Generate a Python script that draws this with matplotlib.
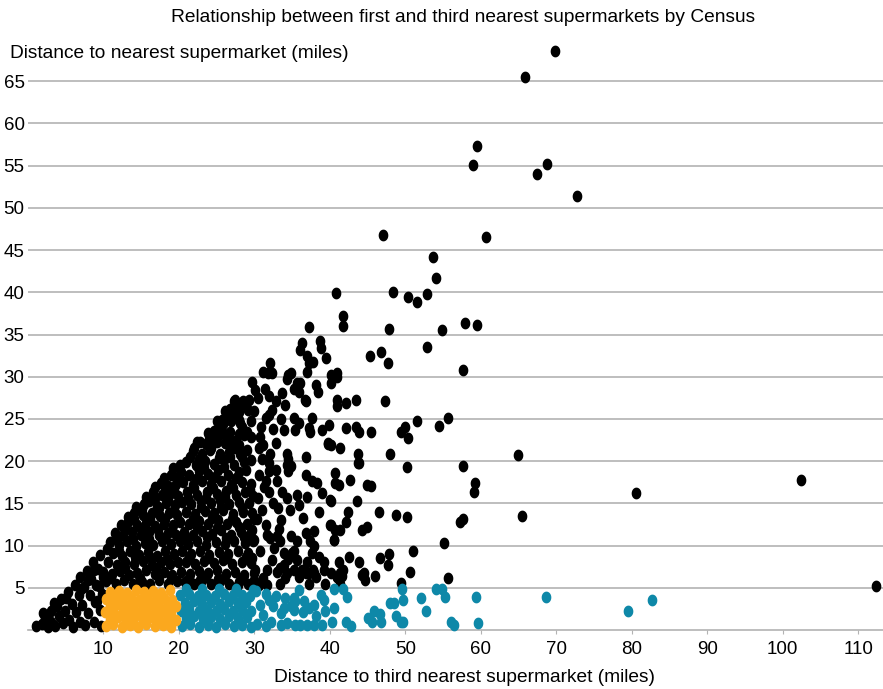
import numpy as np
import matplotlib
matplotlib.use("Agg")
import matplotlib.pyplot as plt
from matplotlib.path import Path

plt.rcParams['font.family'] = ['Liberation Sans', 'DejaVu Sans']

title = "Relationship between first and third nearest supermarkets by Census"
x_label = "Distance to third nearest supermarket (miles)"
y_label = "Distance to nearest supermarket (miles)"
x_ticks = [10, 20, 30, 40, 50, 60, 70, 80, 90, 100, 110]
y_ticks = [5, 10, 15, 20, 25, 30, 35, 40, 45, 50, 55, 60, 65]

# (third nearest, nearest) in miles
black_left = [
    (1.0, 0.5), (1.8, 0.7), (2.3, 1.4), (2.6, 0.4), (3.0, 2.2), (3.1, 1.0), (3.6, 0.5),
    (3.8, 2.9), (4.1, 1.6), (4.4, 3.7), (4.7, 0.8), (4.9, 2.3), (5.3, 4.5), (5.4, 1.2),
    (5.8, 3.1), (6.0, 0.4), (6.2, 5.3), (6.4, 2.1), (6.7, 4.1), (6.9, 6.3), (6.9, 1.0),
    (7.2, 3.0), (7.4, 5.1), (7.6, 0.6), (7.8, 7.0), (8.0, 2.0), (8.2, 4.2), (8.4, 6.0),
    (8.6, 8.0), (8.8, 1.0), (8.9, 3.3), (9.0, 5.3), (9.3, 7.2), (9.5, 8.9), (9.6, 2.4),
    (9.7, 0.5), (9.8, 4.3), (9.9, 6.3), (5.0, 3.8), (3.4, 3.2), (2.0, 2.0),
    (7.9, 5.9), (8.7, 7.1), (9.4, 5.2), (9.2, 3.4), (7.0, 4.8),
]

black_10_20 = [
    (10.4, 5.8), (11.6, 5.5), (12.7, 5.9), (13.9, 5.4), (15.1, 5.7), (16.2, 5.5), (17.4, 5.9), (18.5, 5.4), (19.7, 5.8),
    (10.0, 6.9), (11.1, 6.6), (12.2, 7.0), (13.4, 6.5), (14.5, 6.8), (15.7, 7.1), (16.8, 6.6), (18.0, 6.9), (19.1, 6.5),
    (10.6, 8.0), (11.8, 7.7), (12.9, 8.1), (14.0, 7.8), (15.3, 8.2), (16.4, 7.7), (17.6, 8.0), (18.8, 7.8), (19.9, 8.1),
    (11.2, 9.1), (12.4, 8.8), (13.5, 9.3), (14.7, 8.9), (15.9, 9.2), (17.1, 8.8), (18.2, 9.3), (19.4, 9.0),
    (10.9, 10.4), (12.0, 10.1), (13.1, 10.5), (14.3, 10.0), (15.5, 10.3), (16.6, 10.1), (17.8, 10.5), (19.0, 10.2),
    (11.5, 11.5), (12.6, 11.2), (13.8, 11.6), (15.0, 11.3), (16.1, 11.6), (17.3, 11.2), (18.5, 11.5), (19.6, 11.3),
    (12.3, 12.4), (13.3, 12.8), (14.5, 12.4), (15.6, 12.7), (16.8, 12.3), (18.0, 12.6), (19.2, 12.4),
    (13.2, 13.4), (14.1, 13.9), (15.2, 13.6), (16.4, 13.9), (17.5, 13.5), (18.7, 13.8), (19.8, 13.6),
    (14.3, 14.6), (15.4, 14.9), (16.0, 15.3), (17.1, 14.7), (18.3, 15.0), (19.5, 14.8),
    (15.6, 15.8), (16.5, 16.3), (17.8, 16.0), (18.9, 16.2), (19.9, 15.9),
    (16.8, 16.9), (17.6, 17.4), (18.6, 17.1), (19.6, 17.3),
    (18.0, 18.0), (19.0, 18.4), (19.9, 18.1), (19.2, 19.2), (20.1, 19.6),
    (11.0, 6.1), (12.8, 7.4), (14.9, 6.2), (16.9, 7.3), (18.9, 6.1), (10.5, 9.6), (12.1, 9.4),
    (14.2, 8.6), (16.3, 8.5), (18.4, 8.4), (11.8, 10.9), (13.9, 10.8), (16.0, 10.8), (18.2, 10.9),
    (12.9, 12.0), (15.0, 12.0), (17.2, 11.9), (19.1, 11.8), (14.0, 13.2), (16.2, 13.1), (18.2, 13.2),
    (15.1, 14.3), (17.4, 14.4), (19.4, 14.2), (16.8, 15.6), (18.5, 15.5), (18.2, 16.8), (19.4, 16.6),
]

black_20_30 = [
    (20.8, 5.7), (22.0, 5.4), (23.1, 5.9), (24.3, 5.5), (25.5, 5.8), (26.6, 5.4), (27.9, 5.7), (29.2, 5.5),
    (20.3, 6.9), (21.5, 6.6), (22.7, 7.0), (23.8, 6.7), (25.0, 7.1), (26.3, 6.6), (27.4, 6.9), (28.6, 6.5), (29.9, 6.8),
    (20.9, 8.1), (22.1, 7.8), (23.3, 8.2), (24.6, 7.9), (25.8, 8.3), (27.0, 7.8), (28.3, 8.1), (29.5, 7.9),
    (20.4, 9.3), (21.6, 9.0), (22.8, 9.4), (24.0, 8.9), (25.3, 9.2), (26.5, 9.0), (27.8, 9.4), (29.1, 9.1),
    (20.1, 10.5), (21.2, 10.2), (22.4, 10.6), (23.6, 10.1), (24.9, 10.4), (26.1, 10.2), (27.3, 10.6), (28.7, 10.3),
    (20.7, 11.6), (21.9, 11.3), (23.1, 11.7), (24.4, 11.4), (25.6, 11.8), (26.9, 11.3), (28.2, 11.6), (29.4, 11.4),
    (20.2, 12.8), (21.4, 12.5), (22.6, 12.9), (23.9, 12.6), (25.2, 13.0), (26.4, 12.5), (27.6, 12.8), (29.0, 12.6),
    (20.9, 14.0), (22.1, 13.7), (23.4, 14.1), (24.6, 13.8), (25.9, 14.2), (27.2, 13.7), (28.5, 14.0), (29.7, 13.9),
    (20.4, 15.2), (21.6, 14.9), (22.9, 15.3), (24.2, 15.0), (25.4, 15.4), (26.7, 14.9), (28.0, 15.2), (29.3, 15.0),
    (21.1, 16.3), (22.4, 16.0), (23.7, 16.4), (25.0, 16.1), (26.2, 16.5), (27.5, 16.0), (28.8, 16.3),
    (20.6, 17.5), (21.8, 17.2), (23.0, 17.6), (24.3, 17.3), (25.6, 17.7), (26.9, 17.2), (28.3, 17.5), (29.6, 17.3),
    (20.3, 18.7), (21.4, 18.4), (22.7, 18.8), (23.9, 18.5), (25.2, 18.9), (26.5, 18.4), (27.9, 18.7),
    (21.0, 19.9), (22.2, 19.6), (23.4, 20.0), (24.7, 19.7), (26.0, 20.1), (27.3, 19.6), (28.6, 19.9),
    (21.8, 21.2), (23.0, 20.9), (24.1, 21.3), (25.4, 20.8), (26.7, 21.1), (28.1, 20.9),
    (22.8, 22.3), (23.6, 22.0), (24.8, 22.4), (26.1, 22.1), (27.4, 22.4),
    (23.9, 23.3), (24.6, 23.6), (25.5, 23.2), (26.8, 23.5), (27.9, 23.2),
    (25.0, 24.7), (25.9, 24.4), (26.9, 24.8), (28.1, 24.5),
    (26.1, 25.9), (26.8, 26.2), (28.0, 25.8), (29.2, 26.0),
    (27.4, 27.3), (28.4, 26.8), (29.3, 27.2),
    (21.4, 6.2), (23.6, 6.3), (26.0, 6.2), (28.3, 6.1), (21.3, 8.6), (23.9, 8.5), (26.4, 8.5),
    (28.9, 8.6), (21.0, 10.9), (23.7, 11.0), (26.2, 10.9), (28.6, 11.0), (21.8, 13.2), (24.4, 13.3),
    (27.0, 13.2), (21.2, 15.6), (23.6, 15.6), (26.1, 15.7), (22.2, 17.9), (24.8, 18.1), (27.6, 18.0),
    (22.6, 20.3), (25.3, 20.4), (24.0, 22.6), (26.5, 22.8), (25.7, 24.9), (27.2, 25.4),
    (22.4, 12.2), (25.0, 12.1), (27.9, 12.2), (22.9, 14.6), (25.6, 14.6), (28.4, 14.5), (22.0, 16.8),
    (24.5, 16.8), (27.1, 16.8), (29.4, 16.6), (23.3, 19.2), (26.0, 19.3), (28.9, 18.9), (29.8, 15.9),
    (29.9, 13.2), (29.8, 10.6), (29.7, 8.5), (22.8, 5.9), (25.2, 6.0), (27.8, 5.3),
    (30.5, 15.6), (31.3, 16.9), (33.1, 14.4), (32.9, 19.0), (33.6, 16.4), (30.6, 18.3), (31.5, 12.4),
    (32.3, 8.3), (33.2, 12.0), (30.9, 24.1), (32.4, 23.8), (33.5, 25.0), (31.4, 28.6), (32.9, 27.1),
]

black_30_45 = [
    (40.1, 30.2), (40.9, 30.4), (40.1, 29.3), (41.0, 30.0), (36.3, 34.0), (36.1, 33.2), (38.7, 34.2),
    (38.8, 33.4), (37.3, 35.9), (37.0, 32.5), (37.2, 31.6), (37.8, 31.7), (37.0, 30.6), (39.5, 32.2),
    (32.1, 31.6), (31.2, 30.6), (31.8, 30.4), (32.3, 30.4), (34.5, 30.2), (34.9, 30.4), (34.3, 29.7),
    (35.6, 29.3), (35.2, 28.6), (35.9, 28.2), (29.7, 29.4), (30.1, 28.4), (30.5, 27.5), (31.9, 27.7),
    (33.7, 28.1), (34.1, 26.7), (36.7, 27.2), (38.1, 29.0), (38.4, 28.2), (40.9, 27.3), (40.9, 26.5),
    (42.2, 26.9), (43.5, 27.3), (36.8, 27.1), (36.1, 29.3),
    (27.3, 27.1), (28.5, 27.1), (27.7, 26.3), (27.5, 25.7), (26.4, 25.2), (27.0, 25.1), (27.9, 24.9),
    (29.9, 25.9), (29.5, 24.7), (28.4, 24.1), (29.0, 23.5), (29.5, 22.9), (28.6, 23.1), (31.9, 25.5),
    (32.3, 26.1), (31.6, 25.1), (33.9, 23.7), (35.2, 25.1), (35.9, 24.5), (35.4, 23.7), (37.2, 23.9),
    (37.6, 25.1), (37.4, 23.4), (38.9, 23.7), (39.9, 24.3), (42.1, 23.9), (43.4, 24.1), (43.9, 23.4),
    (45.5, 23.4), (39.8, 22.1), (41.3, 21.6), (40.1, 21.9), (43.7, 19.8),
    (25.3, 24.1), (25.9, 23.3), (24.4, 22.9), (25.1, 22.3), (24.2, 21.5), (22.4, 22.3), (22.0, 21.5),
    (21.5, 20.5), (26.6, 22.1), (27.3, 21.5), (27.9, 21.9), (29.0, 21.3), (28.4, 20.5), (26.8, 20.5),
    (29.5, 20.1), (30.8, 22.9), (31.1, 21.9), (30.6, 21.5), (31.0, 20.3), (32.1, 20.9), (32.8, 22.1),
    (31.9, 19.8), (34.3, 20.9), (34.5, 20.3), (34.3, 19.5), (34.8, 19.4), (36.9, 20.5), (36.9, 18.4),
    (39.7, 22.0),
    (31.5, 17.6), (33.0, 17.6), (31.9, 18.8), (34.5, 18.8), (37.7, 17.6), (38.3, 17.4), (40.7, 17.4),
    (34.3, 15.6), (34.7, 14.2), (35.6, 16.0), (35.9, 14.8), (40.0, 15.4), (31.0, 14.2), (30.4, 13.2),
    (29.7, 11.8), (30.0, 10.7), (31.7, 11.3), (32.1, 10.9), (30.8, 9.3), (33.0, 11.1), (33.4, 10.5),
    (32.6, 9.7), (34.8, 11.1), (35.6, 10.6), (36.9, 11.5), (37.9, 11.7), (37.4, 10.5), (40.7, 11.8),
    (40.5, 10.7), (40.0, 12.4), (32.5, 15.0), (33.5, 13.0), (36.5, 13.3), (38.5, 14.0), (39.0, 16.2),
    (32.0, 16.3), (37.0, 15.8),
    (33.9, 9.1), (35.2, 9.3), (34.5, 8.4), (35.6, 8.3), (37.0, 8.1), (38.5, 8.6), (39.2, 8.0),
    (39.2, 7.1), (40.1, 6.7), (40.9, 6.3), (37.8, 7.1), (38.1, 6.3), (37.2, 6.7), (35.2, 7.1),
    (35.9, 6.3), (34.3, 6.7), (33.0, 6.9), (31.7, 7.1), (31.2, 6.1), (30.1, 7.1), (29.9, 5.9),
    (30.6, 5.3), (31.7, 5.3), (34.1, 6.1), (37.9, 9.9), (37.6, 9.1), (35.0, 9.1), (33.9, 7.7),
    (33.4, 7.3), (33.4, 5.5), (36.3, 7.1), (36.8, 6.7), (37.3, 5.5), (37.9, 6.7),
]

black_sparse = [
    (69.9, 68.6), (65.8, 65.5), (59.5, 57.3), (59.0, 55.1), (68.8, 55.2), (67.4, 54.0), (72.8, 51.4),
    (47.1, 46.8), (60.7, 46.6), (53.7, 44.2), (54.0, 41.7), (48.4, 40.0), (40.8, 39.9), (50.4, 39.5),
    (51.6, 38.9), (52.9, 39.8), (41.7, 37.2), (41.7, 36.0), (47.8, 35.7), (54.8, 35.5), (57.9, 36.4),
    (59.5, 36.1), (52.9, 33.5), (46.8, 32.9), (45.3, 32.4), (47.7, 31.6), (57.6, 30.8), (47.3, 27.1),
    (51.5, 24.8), (49.9, 24.1), (49.4, 23.4), (50.4, 22.8), (54.5, 24.2), (55.6, 25.1), (48.0, 20.9),
    (50.2, 19.3), (57.6, 19.4), (64.9, 20.7), (59.3, 17.4), (59.1, 16.3), (80.6, 16.2), (102.5, 17.8),
    (57.2, 12.8), (57.7, 13.1), (65.4, 13.5), (48.8, 13.6), (50.2, 13.4), (46.5, 14.0), (55.1, 10.3),
    (51.0, 9.4), (112.4, 5.2), (55.7, 6.2), (50.6, 6.9), (49.4, 5.6), (46.7, 8.5), (47.8, 9.0),
    (47.7, 7.7), (46.0, 6.4), (44.5, 6.7), (43.8, 8.1), (44.3, 11.9), (44.9, 12.2), (44.9, 17.2),
    (45.5, 17.0), (43.6, 15.3), (43.8, 19.8), (43.7, 20.9), (42.7, 17.8), (41.2, 17.2), (40.7, 18.6),
    (40.1, 15.3), (42.4, 14.0), (42.2, 12.8), (40.1, 12.4), (41.4, 11.8), (40.6, 10.7), (42.6, 8.7),
    (41.2, 8.1), (41.3, 6.7), (41.6, 6.4), (41.4, 5.5), (41.8, 7.1), (41.0, 6.3), (44.3, 6.5),
    (44.6, 5.9), (39.4, 5.5),
]

orange_pts = [
    (10.3, 0.5), (11.3, 0.7), (12.4, 0.4), (13.5, 0.6), (14.6, 0.4), (15.7, 0.7), (16.8, 0.5), (17.9, 0.6), (19.0, 0.4),
    (10.8, 1.3), (11.9, 1.5), (13.0, 1.2), (14.1, 1.4), (15.2, 1.2), (16.3, 1.5), (17.4, 1.3), (18.5, 1.4), (19.6, 1.2),
    (10.2, 2.1), (11.3, 2.3), (12.4, 2.0), (13.5, 2.2), (14.6, 2.0), (15.7, 2.3), (16.8, 2.1), (17.9, 2.2), (19.0, 2.0),
    (10.8, 2.9), (11.9, 3.1), (13.0, 2.8), (14.1, 3.0), (15.2, 2.8), (16.3, 3.1), (17.4, 2.9), (18.5, 3.0), (19.6, 2.8),
    (10.3, 3.7), (11.4, 3.9), (12.5, 3.6), (13.6, 3.8), (14.7, 3.6), (15.8, 3.9), (16.9, 3.7), (18.0, 3.8), (19.1, 3.6),
    (10.9, 4.5), (12.0, 4.6), (13.1, 4.4), (14.3, 4.7), (15.4, 4.5), (16.5, 4.6), (17.6, 4.4), (18.8, 4.7),
]

teal_pts = [
    (20.4, 0.5), (21.5, 0.7), (22.6, 0.4), (23.8, 0.6), (24.9, 0.4), (26.1, 0.7), (27.3, 0.5), (28.4, 0.6), (29.6, 0.4),
    (20.9, 1.4), (22.0, 1.6), (23.2, 1.3), (24.3, 1.5), (25.5, 1.3), (26.7, 1.6), (27.8, 1.4), (29.0, 1.5),
    (20.3, 2.3), (21.4, 2.5), (22.6, 2.2), (23.7, 2.4), (24.9, 2.2), (26.0, 2.5), (27.2, 2.3), (28.4, 2.4), (29.5, 2.2),
    (20.8, 3.2), (22.0, 3.4), (23.1, 3.1), (24.3, 3.3), (25.4, 3.1), (26.6, 3.4), (27.8, 3.2), (28.9, 3.3),
    (20.2, 4.1), (21.4, 4.3), (22.5, 4.0), (23.6, 4.2), (24.8, 4.0), (26.0, 4.3), (27.1, 4.1), (28.3, 4.2), (29.4, 4.0),
    (21.0, 4.8), (23.0, 4.9), (25.3, 4.8), (27.6, 4.9), (29.8, 4.7),
    (30.4, 0.7), (31.2, 1.8), (30.8, 3.0), (31.6, 4.3), (32.2, 0.9), (32.4, 2.8), (30.2, 4.6), (32.9, 4.0),
    (31.5, 0.5), (32.0, 3.6),
    (35.9, 4.7), (35.2, 3.8), (35.4, 3.4), (34.8, 2.8), (35.2, 2.4), (34.1, 3.8), (33.9, 2.6), (33.5, 2.0),
    (34.3, 0.8), (33.5, 0.6), (35.4, 0.6), (36.1, 0.6), (36.6, 3.4), (36.5, 2.1), (37.9, 3.0), (38.2, 1.6),
    (37.9, 0.6), (37.2, 2.6), (37.0, 0.6), (39.2, 3.6), (39.4, 2.2), (39.0, 0.6), (38.8, 4.1), (40.5, 4.9),
    (40.5, 2.6), (40.3, 1.0), (41.7, 4.9), (42.3, 3.9), (42.2, 0.9), (42.8, 0.5),
    (45.1, 1.4), (45.6, 1.0), (45.9, 2.2), (46.6, 1.9), (46.8, 1.0), (48.0, 3.2), (48.5, 3.2), (48.8, 1.6),
    (49.7, 0.9), (49.4, 1.0), (49.5, 4.9), (49.7, 3.6), (52.1, 3.8), (52.8, 2.3), (54.1, 4.9), (54.8, 4.9),
    (55.2, 3.9), (56.0, 0.9), (56.5, 0.6), (59.4, 3.9), (59.6, 0.8), (68.6, 3.9), (79.5, 2.3), (82.7, 3.6),
]

black_pts = black_left + black_10_20 + black_20_30 + black_30_45 + black_sparse

# slightly tall ellipse marker
t = np.linspace(0, 2 * np.pi, 41)
ellipse = Path(np.column_stack([0.82 * np.cos(t), np.sin(t)]), closed=True)

fig = plt.figure(figsize=(8.83, 6.89), dpi=100)
ax = fig.add_axes([28 / 883, 1 - 630 / 689, 1 - 28 / 883, (630 - 39) / 689])

for pts, col in [(black_pts, '#000000'), (teal_pts, '#0E88A8'), (orange_pts, '#FBA81E')]:
    xs, ys = zip(*pts)
    ax.scatter(xs, ys, s=72, marker=ellipse, color=col, linewidths=0, zorder=3, clip_on=False)

ax.set_xlim(0, 113.3)
ax.set_ylim(0, 70)
ax.set_xticks(x_ticks)
ax.set_yticks(y_ticks)
ax.grid(axis='y', color='#b3b3b3', linewidth=1.2)
ax.set_axisbelow(True)
for s in ['top', 'right', 'left']:
    ax.spines[s].set_visible(False)
ax.spines['bottom'].set_color('#b3b3b3')
ax.spines['bottom'].set_linewidth(1.2)
ax.tick_params(axis='y', length=0, pad=2.5, labelsize=13.5)
ax.tick_params(axis='x', length=3, color='#b3b3b3', pad=5, labelsize=13.5)

fig.text(463 / 883, 1 - 17 / 689, title, ha='center', va='center', fontsize=13.8)
fig.text(10 / 883, 1 - 53 / 689, y_label, ha='left', va='center', fontsize=13.8)
fig.text(465 / 883, 1 - 677 / 689, x_label, ha='center', va='center', fontsize=13.8)

fig.savefig('out.png', dpi=100)
